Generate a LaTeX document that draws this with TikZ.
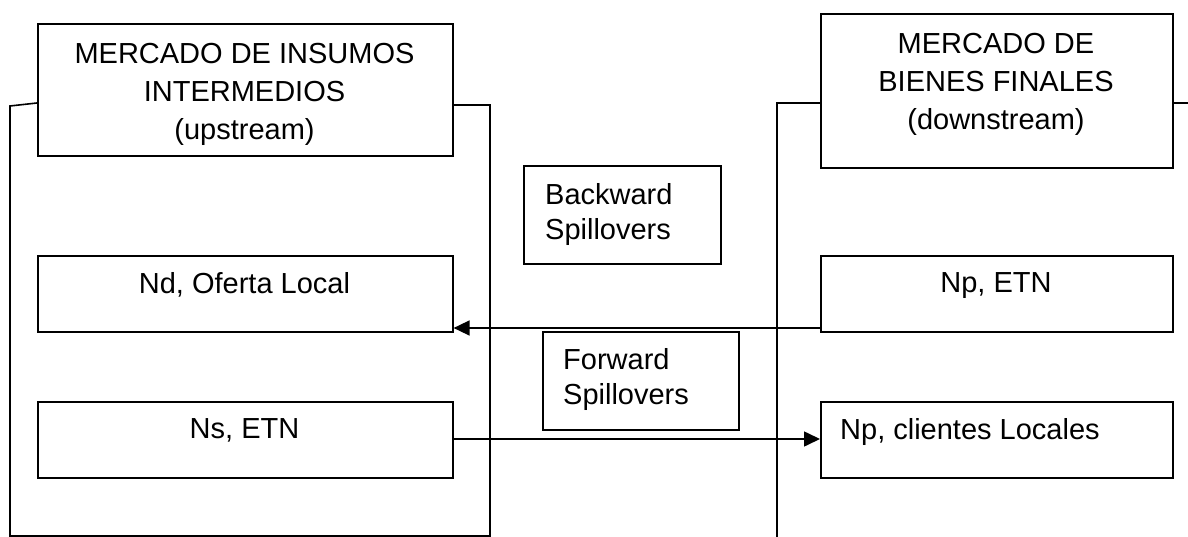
\documentclass[tikz,border=0pt]{standalone}
\usepackage{fontspec}
\setmainfont{Liberation Sans}
\usetikzlibrary{arrows.meta}
\begin{document}
\begin{tikzpicture}[x=1pt,y=-1pt,
  box/.style={draw, line width=1.6pt, inner sep=0pt, anchor=north west},
  frame/.style={line width=1.6pt},
  txt/.style={font=\fontsize{29}{38}\selectfont, inner sep=0pt, anchor=north, align=center},
  spill/.style={font=\fontsize{29}{35}\selectfont, inner sep=0pt, anchor=north west, align=left},
  arr/.style={line width=1.6pt, -{Triangle[length=16pt,width=15pt]}}
]
\useasboundingbox (0,0) rectangle (1188,537);
\coordinate (y103) at (0,103);
\coordinate (y105) at (0,105);
\coordinate (y328) at (0,328);
\coordinate (y439) at (0,439);
% boxes
\node[box, minimum width=415pt, minimum height=132pt] (up) at (37,23) {};
\node[box, minimum width=352pt, minimum height=154pt] (down) at (820,13) {};
\node[box, minimum width=197pt, minimum height=98pt] (back) at (523,165) {};
\node[box, minimum width=196pt, minimum height=98pt] (fwd) at (542,331) {};
\node[box, minimum width=415pt, minimum height=76pt] (nd) at (37,255) {};
\node[box, minimum width=352pt, minimum height=76pt] (npetn) at (820,255) {};
\node[box, minimum width=415pt, minimum height=76pt] (ns) at (37,401) {};
\node[box, minimum width=352pt, minimum height=76pt] (npcl) at (820,401) {};
% texts
\node[txt] (tup) at (244.5,43) {MERCADO DE INSUMOS\\INTERMEDIOS\\(upstream)};
\node[txt] (tdown) at (996,33) {MERCADO DE\\BIENES FINALES\\(downstream)};
\node[spill] (tback) at (545,183) {Backward\\Spillovers};
\node[spill] (tfwd) at (563,348) {Forward\\Spillovers};
\node[txt] (tnd) at (244.5,272) {Nd, Oferta Local};
\node[txt] (tnpetn) at (996,272) {Np, ETN};
\node[txt] (tns) at (244.5,418) {Ns, ETN};
\node[spill] (tnpcl) at (840,418) {Np, clientes Locales};
% frames
\draw[frame] (up.west |- y103) -- (10,106) -- (10,536) -- (490,536) -- (490,105) -- (up.east |- y105);
\draw[frame] (down.west |- y103) -- (777,103) -- (777,537);
\draw[frame] (down.east |- y103) -- (1188,103);
% arrows
\draw[arr] (npetn.west |- y328) -- (nd.east |- y328);
\draw[arr] (ns.east |- y439) -- (npcl.west |- y439);
\end{tikzpicture}
\end{document}
